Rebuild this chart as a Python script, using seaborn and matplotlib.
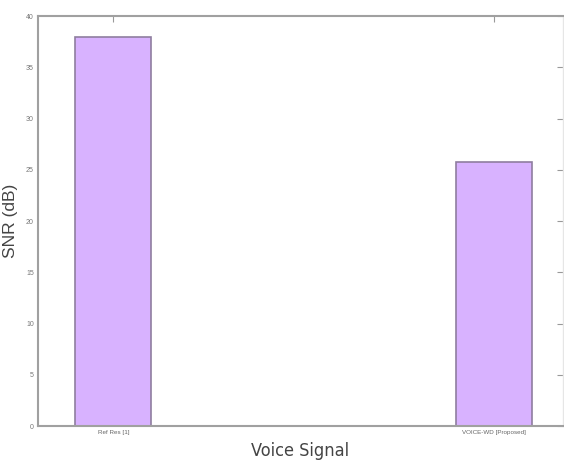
import pandas as pd
import numpy as np
import matplotlib.pyplot as plt
import seaborn as sns

# dados
signals = ['Ref Res [1]', 'VOICE-WD [Proposed]']
snr_db = [38.0, 25.8]
y_ticks = [0, 5, 10, 15, 20, 25, 30, 35, 40]

df = pd.DataFrame({'Signal': signals, 'SNR': snr_db})

sns.set_style('white')
plt.rcParams['font.family'] = ['Liberation Sans', 'DejaVu Sans']

fig = plt.figure(figsize=(5.64, 4.63), dpi=100)
ax = fig.add_axes([0.0674, 0.0799, 0.930, 0.8855])

sns.barplot(data=df, x='Signal', y='SNR', ax=ax, width=0.2,
            color='#D8B2FF', saturation=1, edgecolor='#8F7EA0', linewidth=1.2)

ax.set_ylim(0, 40)
ax.set_xlim(-0.198, 1.18)
ax.set_yticks(y_ticks)
ax.set_yticklabels([str(t) for t in y_ticks], fontsize=5, color='#777777')
ax.set_xticks([0, 1])
ax.set_xticklabels(signals, fontsize=4.5, color='#666666')

ax.tick_params(axis='both', direction='in', length=4, width=0.8, color='#999999',
               top=True, right=True, pad=3)

for name, s in ax.spines.items():
    s.set_visible(True)
    s.set_color('#A0A0A0')
    s.set_linewidth(1.5)
ax.spines['right'].set_color('#E6E6E6')
ax.spines['right'].set_linewidth(1.0)

ax.set_ylabel('SNR (dB)', fontsize=12.5, color='#444444', labelpad=6)
ax.set_xlabel('Voice Signal', fontsize=13, color='#444444', labelpad=5)
ax.xaxis.label.set_fontstretch('condensed')
ax.xaxis.label.set_family(['DejaVu Sans Condensed', 'Liberation Sans Narrow', 'DejaVu Sans'])

fig.savefig('out.png', dpi=100)
